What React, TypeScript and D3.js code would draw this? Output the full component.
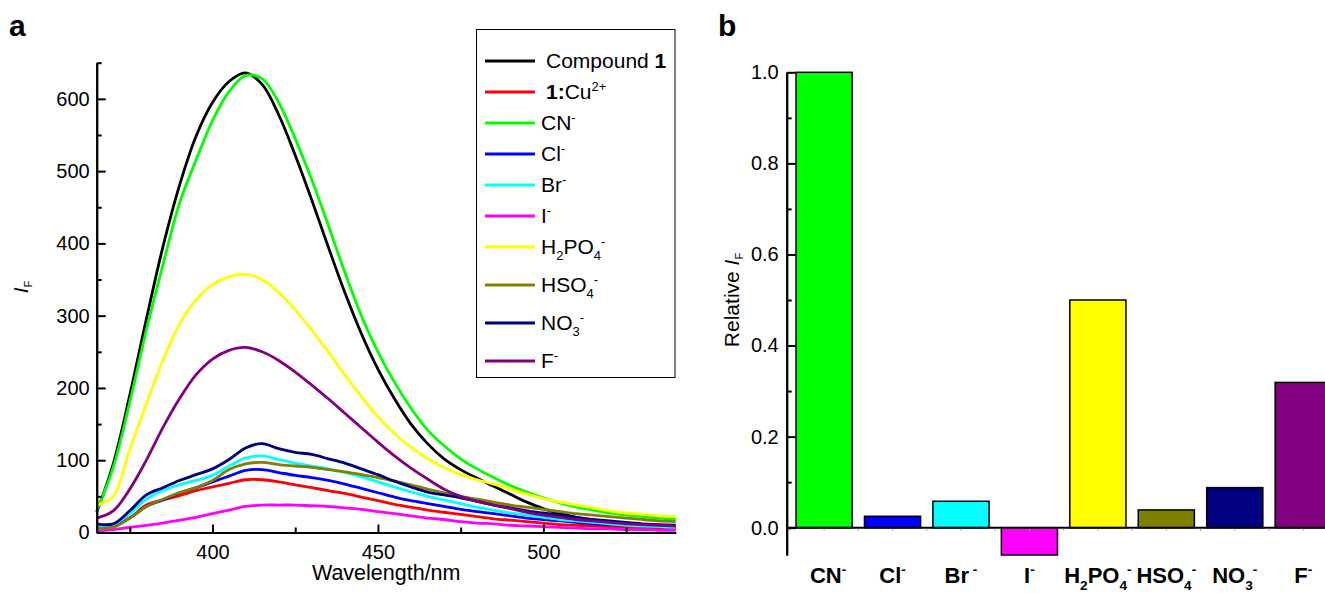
import React, { useRef, useEffect } from 'react';
import * as d3 from 'd3';

// ---- panel a: emission spectra (5 nm steps) ----
const wavelengths = [365, 370, 375, 380, 385, 390, 395, 400, 405, 410, 415, 420, 425, 430, 435, 440, 445, 450,
  455, 460, 465, 470, 475, 480, 485, 490, 495, 500, 505, 510, 515, 520, 525, 530, 535, 540];

const compound1 = [28, 95, 190, 295, 395, 480, 548, 595, 624, 636, 620, 578, 522, 460, 395, 332, 275, 226,
  185, 150, 123, 102, 87, 75, 64, 53, 42, 33, 26, 21, 17, 14, 12, 10, 9, 8];
const cuComplex = [8, 9, 20, 38, 45, 51, 58, 63, 68, 73, 73, 70, 66, 62, 58, 54, 49, 44,
  39, 35, 31, 28, 25, 22, 19, 17, 15, 13, 11, 10, 9, 8, 7, 6, 6, 5];
const cnSpec = [30, 90, 180, 280, 370, 455, 515, 570, 610, 632, 628, 595, 545, 488, 425, 360, 300, 250,
  208, 172, 142, 120, 102, 88, 76, 65, 56, 48, 41, 35, 31, 27, 24, 22, 20, 18];
const clSpec = [8, 9, 20, 36, 45, 55, 62, 70, 78, 86, 87, 83, 79, 76, 72, 67, 61, 55,
  49, 44, 40, 36, 32, 29, 26, 23, 20, 18, 16, 14, 12, 11, 10, 9, 8, 7];
const brSpec = [10, 11, 26, 46, 58, 66, 72, 79, 92, 103, 106, 101, 96, 92, 88, 83, 77, 70,
  63, 56, 50, 45, 40, 35, 31, 27, 24, 21, 18, 16, 14, 12, 10, 9, 8, 7];
const iSpec = [2, 4, 7, 10, 13, 17, 21, 26, 31, 36, 38, 38, 38, 37, 36, 34, 32, 29,
  26, 23, 20, 18, 15, 13, 12, 10, 9, 8, 7, 6, 5, 5, 4, 4, 3, 3];
const h2po4Spec = [38, 50, 115, 178, 238, 288, 322, 343, 354, 357, 350, 332, 308, 280, 250, 218, 188, 160,
  137, 118, 102, 90, 80, 73, 67, 60, 53, 47, 42, 38, 34, 30, 27, 25, 23, 22];
const hso4Spec = [6, 7, 20, 36, 46, 55, 62, 72, 87, 95, 97, 94, 92, 90, 87, 84, 80, 76,
  71, 66, 60, 55, 50, 46, 42, 38, 35, 32, 29, 26, 24, 22, 20, 18, 16, 15];
const no3Spec = [12, 12, 30, 52, 62, 72, 80, 88, 101, 117, 123, 116, 111, 108, 102, 96, 88, 80,
  71, 63, 56, 52, 48, 43, 38, 34, 30, 27, 24, 21, 18, 16, 14, 12, 11, 10];
const fSpec = [20, 30, 60, 100, 145, 185, 218, 240, 252, 256, 250, 238, 222, 204, 185, 165, 145, 125,
  106, 89, 74, 60, 50, 43, 38, 33, 28, 24, 21, 18, 16, 14, 12, 11, 10, 9];

const spectra = [compound1, cuComplex, cnSpec, clSpec, brSpec, iSpec, h2po4Spec, hso4Spec, no3Spec, fSpec];
const spectraColors = ['#000000', '#ff0000', '#00ff00', '#0000ff', '#00ffff', '#ff00ff', '#ffff00', '#808000', '#000080', '#800080'];

type Part = { t: string; b?: boolean; sub?: boolean; sup?: boolean };

const legendLabels: Part[][] = [
  [{ t: 'Compound ' }, { t: '1', b: true }],
  [{ t: '1:', b: true }, { t: 'Cu' }, { t: '2+', sup: true }],
  [{ t: 'CN' }, { t: '-', sup: true }],
  [{ t: 'Cl' }, { t: '-', sup: true }],
  [{ t: 'Br' }, { t: '-', sup: true }],
  [{ t: 'I' }, { t: '-', sup: true }],
  [{ t: 'H' }, { t: '2', sub: true }, { t: 'PO' }, { t: '4', sub: true }, { t: '-', sup: true }],
  [{ t: 'HSO' }, { t: '4', sub: true }, { t: '-', sup: true }],
  [{ t: 'NO' }, { t: '3', sub: true }, { t: '-', sup: true }],
  [{ t: 'F' }, { t: '-', sup: true }],
];

const intensityTicks = [0, 100, 200, 300, 400, 500, 600];
const intensityMinor = [50, 150, 250, 350, 450, 550, 650];
const wavelengthTicks = [400, 450, 500];
const wavelengthMinor = [375, 425, 475, 525];

// ---- panel b: relative intensity ----
const anions = ['CN', 'Cl', 'Br', 'I', 'H2PO4', 'HSO4', 'NO3', 'F'];
const relativeIF = [1.0, 0.025, 0.058, -0.06, 0.5, 0.039, 0.088, 0.319];
const barColors = ['#00ff00', '#0000ff', '#00ffff', '#ff00ff', '#ffff00', '#808000', '#000080', '#800080'];
const anionLabels: Part[][] = [
  [{ t: 'CN' }, { t: '-', sup: true }],
  [{ t: 'Cl' }, { t: '-', sup: true }],
  [{ t: 'Br' }, { t: ' -', sup: true }],
  [{ t: 'I' }, { t: '-', sup: true }],
  [{ t: 'H' }, { t: '2', sub: true }, { t: 'PO' }, { t: '4', sub: true }, { t: '-', sup: true }],
  [{ t: 'HSO' }, { t: '4', sub: true }, { t: '-', sup: true }],
  [{ t: 'NO' }, { t: '3', sub: true }, { t: '-', sup: true }],
  [{ t: 'F' }, { t: '-', sup: true }],
];
const relTicks = [0, 0.2, 0.4, 0.6, 0.8, 1.0];
const relMinor = [0.1, 0.3, 0.5, 0.7, 0.9];

const FONT = "'Liberation Sans', Arial, Helvetica, sans-serif";

// writes a label made of normal / sub / superscript pieces into a <text>
function richText(sel: any, parts: Part[], size: number) {
  let shift = 0;
  parts.forEach(p => {
    const target = p.sub ? size * 0.3 : p.sup ? -size * 0.4 : 0;
    sel.append('tspan')
      .attr('dy', target - shift)
      .attr('font-size', p.sub || p.sup ? size * 0.62 : size)
      .attr('font-weight', p.b ? 'bold' : null)
      .text(p.t);
    shift = target;
  });
}

const App = () => {
  const svgRef = useRef<SVGSVGElement>(null);

  useEffect(() => {
    const svg = d3.select(svgRef.current);
    svg.selectAll('*').remove();
    svg.attr('font-family', FONT);

    // ================= panel a =================
    const x = d3.scaleLinear().domain([365, 540]).range([96.7, 675.7]);
    const y = d3.scaleLinear().domain([0, 650]).range([532.5, 62.7]);

    const lineGen = d3.line<number>()
      .x((_, i) => x(wavelengths[i]))
      .y(d => y(d))
      .curve(d3.curveCatmullRom.alpha(0.5));

    const gA = svg.append('g');
    gA.selectAll('.spec')
      .data(spectra)
      .enter()
      .append('path')
      .attr('class', 'spec')
      .attr('d', d => lineGen(d))
      .attr('fill', 'none')
      .attr('stroke', (_, i) => spectraColors[i])
      .attr('stroke-width', 2.8)
      .attr('stroke-linejoin', 'round');

    const styleAxis = (g: any) => {
      g.select('.domain').attr('stroke-width', 2);
      g.selectAll('.tick line').attr('stroke-width', 2);
      g.selectAll('.tick text').attr('font-size', 20).attr('font-family', FONT).attr('fill', '#000');
    };

    gA.append('g')
      .attr('transform', `translate(0, ${y(0)})`)
      .call(d3.axisBottom(x).tickValues(wavelengthMinor).tickSize(-5).tickSizeOuter(0).tickFormat(() => ''))
      .call(styleAxis);
    gA.append('g')
      .attr('transform', `translate(0, ${y(0)})`)
      .call(d3.axisBottom(x).tickValues(wavelengthTicks).tickSize(-8).tickSizeOuter(0).tickPadding(12).tickFormat(d3.format('d')))
      .call(styleAxis);

    gA.append('g')
      .attr('transform', `translate(${x(365)}, 0)`)
      .call(d3.axisLeft(y).tickValues(intensityMinor).tickSize(-5).tickSizeOuter(0).tickFormat(() => ''))
      .call(styleAxis);
    gA.append('g')
      .attr('transform', `translate(${x(365)}, 0)`)
      .call(d3.axisLeft(y).tickValues(intensityTicks).tickSize(-9).tickSizeOuter(0).tickPadding(7).tickFormat(d3.format('d')))
      .call(styleAxis);

    gA.append('text')
      .attr('x', (x(365) + x(540)) / 2)
      .attr('y', 580)
      .attr('text-anchor', 'middle')
      .attr('font-size', 21.5)
      .text('Wavelength/nm');

    const yLab = gA.append('text')
      .attr('transform', 'translate(28, 287) rotate(-90)')
      .attr('text-anchor', 'middle');
    yLab.append('tspan').attr('font-size', 21).attr('font-style', 'italic').text('I');
    yLab.append('tspan').attr('font-size', 11).attr('dy', 4).text('F');

    // legend
    const legend = gA.append('g');
    legend.append('rect')
      .attr('x', 476.5).attr('y', 29.5)
      .attr('width', 198.5).attr('height', 348)
      .attr('fill', '#fff').attr('stroke', '#000').attr('stroke-width', 1);
    const legendY = [61, 92, 123, 154, 185, 216, 247, 285, 323, 361];
    legendLabels.forEach((parts, i) => {
      legend.append('line')
        .attr('x1', 485).attr('x2', 535)
        .attr('y1', legendY[i]).attr('y2', legendY[i])
        .attr('stroke', spectraColors[i]).attr('stroke-width', 3);
      const t = legend.append('text')
        .attr('x', i < 2 ? 546 : 541)
        .attr('y', legendY[i] + 7)
        .attr('font-size', 21)
        .style('white-space', 'pre');
      richText(t, parts, 21);
    });

    svg.append('text').attr('x', 9).attr('y', 36).attr('font-size', 30).attr('font-weight', 'bold').text('a');

    // ================= panel b =================
    const xb = d3.scaleBand().domain(anions).range([783.7, 1343.6]).padding(0.18);
    const yb = d3.scaleLinear().domain([-0.06, 1.0]).range([555, 72.3]);

    const gB = svg.append('g');
    gB.selectAll('.bar')
      .data(relativeIF)
      .enter()
      .append('rect')
      .attr('class', 'bar')
      .attr('x', (_, i) => xb(anions[i]) as number)
      .attr('y', d => yb(Math.max(0, d)))
      .attr('width', xb.bandwidth())
      .attr('height', d => Math.abs(yb(d) - yb(0)))
      .attr('fill', (_, i) => barColors[i])
      .attr('stroke', '#000')
      .attr('stroke-width', 1.5);

    // baseline with faint small ticks at band centres and gaps
    gB.append('line')
      .attr('x1', 786.7).attr('x2', 1325)
      .attr('y1', yb(0)).attr('y2', yb(0))
      .attr('stroke', '#000').attr('stroke-width', 2);
    const step = xb.step();
    anions.forEach(a => {
      const c = (xb(a) as number) + xb.bandwidth() / 2;
      [c, c - step / 2].forEach(px => {
        gB.append('line')
          .attr('x1', px).attr('x2', px)
          .attr('y1', yb(0) + 1).attr('y2', yb(0) + 3)
          .attr('stroke', '#999').attr('stroke-width', 1);
      });
    });

    gB.append('g')
      .attr('transform', 'translate(786.7, 0)')
      .call(d3.axisLeft(yb).tickValues(relMinor).tickSize(-5).tickSizeOuter(0).tickFormat(() => ''))
      .call(styleAxis);
    gB.append('g')
      .attr('transform', 'translate(786.7, 0)')
      .call(d3.axisLeft(yb).tickValues(relTicks).tickSize(-9).tickSizeOuter(0).tickPadding(8).tickFormat(d3.format('.1f')))
      .call(styleAxis);

    anionLabels.forEach((parts, i) => {
      const t = gB.append('text')
        .attr('x', (xb(anions[i]) as number) + xb.bandwidth() / 2 + (i === 0 ? 4 : 0))
        .attr('y', 583)
        .attr('text-anchor', 'middle')
        .attr('font-size', 22)
        .attr('font-weight', 'bold')
        .style('white-space', 'pre');
      richText(t, parts, 22);
    });

    const rLab = gB.append('text')
      .attr('transform', 'translate(739, 300) rotate(-90)')
      .attr('text-anchor', 'middle')
      .attr('font-size', 21);
    rLab.append('tspan').text('Relative ');
    rLab.append('tspan').attr('font-style', 'italic').attr('font-size', 21).text('I');
    rLab.append('tspan').attr('font-size', 11).attr('dy', 4).text('F');

    svg.append('text').attr('x', 718).attr('y', 36).attr('font-size', 30).attr('font-weight', 'bold').text('b');
  }, []);

  return (
    <svg
      ref={svgRef}
      width={1325}
      height={593}
      style={{ position: 'absolute', left: 0, top: 0, background: '#fff' }}
    />
  );
};

export default App;
